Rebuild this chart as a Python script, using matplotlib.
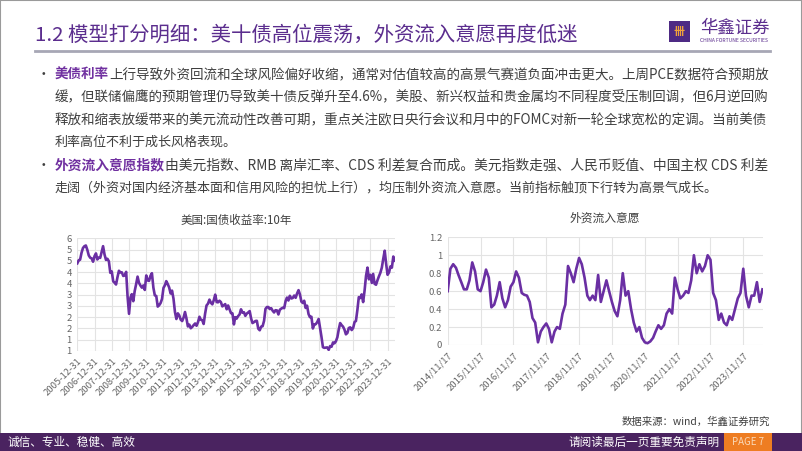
import matplotlib
matplotlib.use("Agg")
import matplotlib.pyplot as plt
import matplotlib.patches as mpatches
import pandas as pd

plt.rcParams['font.family'] = ['Noto Sans CJK SC', 'DejaVu Sans']

# 美国10年期国债收益率 (月末, %), 2005-12 ~ 2024-05
us10y = [4.39,
         4.53, 4.55, 4.86, 5.07, 5.15, 5.18, 4.99, 4.74, 4.64, 4.61, 4.46, 4.71,
         4.83, 4.56, 4.65, 4.63, 4.90, 5.15, 4.78, 4.54, 4.59, 4.48, 3.97, 4.03,
         3.59, 3.53, 3.45, 3.77, 4.06, 3.99, 3.99, 3.83, 3.85, 4.01, 2.92, 2.15,
         2.87, 3.02, 2.71, 3.16, 3.47, 3.80, 3.52, 3.40, 3.31, 3.41, 3.21, 3.85,
         3.63, 3.61, 3.84, 3.95, 3.31, 2.97, 2.94, 2.47, 2.53, 2.63, 2.81, 3.30,
         3.42, 3.60, 3.47, 3.32, 3.05, 3.18, 2.82, 2.23, 1.92, 2.17, 2.08, 1.89,
         1.83, 1.98, 2.23, 1.95, 1.59, 1.67, 1.51, 1.57, 1.65, 1.72, 1.62, 1.78,
         2.02, 1.89, 1.87, 1.70, 2.16, 2.52, 2.60, 2.78, 2.64, 2.57, 2.75, 3.00,
         2.67, 2.66, 2.73, 2.67, 2.48, 2.53, 2.58, 2.35, 2.52, 2.35, 2.18, 2.17,
         1.68, 2.00, 1.94, 2.05, 2.12, 2.35, 2.20, 2.22, 2.06, 2.16, 2.21, 2.27,
         1.94, 1.74, 1.78, 1.83, 1.84, 1.49, 1.42, 1.58, 1.60, 1.84, 2.37, 2.45,
         2.45, 2.36, 2.40, 2.29, 2.21, 2.31, 2.30, 2.12, 2.33, 2.38, 2.42, 2.40,
         2.72, 2.87, 2.74, 2.95, 2.83, 2.85, 2.96, 2.86, 3.05, 3.20, 3.01, 2.69,
         2.63, 2.73, 2.41, 2.51, 2.14, 2.00, 2.02, 1.50, 1.68, 1.69, 1.78, 1.92,
         1.51, 1.13, 0.67, 0.64, 0.65, 0.66, 0.55, 0.72, 0.69, 0.88, 0.84, 0.93,
         1.11, 1.44, 1.74, 1.65, 1.58, 1.45, 1.24, 1.30, 1.52, 1.55, 1.43, 1.52,
         1.79, 1.83, 2.32, 2.89, 2.85, 3.01, 2.67, 3.19, 3.83, 4.20, 3.68, 3.88,
         3.52, 3.92, 3.48, 3.44, 3.64, 3.81, 3.97, 4.20, 4.59, 4.95, 4.37, 3.88,
         3.99, 4.25, 4.20, 4.69, 4.51]
us10y_dates = pd.date_range("2005-12-31", periods=len(us10y), freq="ME")
us10y_ticks = ["2005-12-31", "2006-12-31", "2007-12-31", "2008-12-31", "2009-12-31",
               "2010-12-31", "2011-12-31", "2012-12-31", "2013-12-31", "2014-12-31",
               "2015-12-31", "2016-12-31", "2017-12-31", "2018-12-31", "2019-12-31",
               "2020-12-31", "2021-12-31", "2022-12-31", "2023-12-31"]
us10y_yticks = [0.5, 1.0, 1.5, 2.0, 2.5, 3.0, 3.5, 4.0, 4.5, 5.0, 5.5]
us10y_ylabels = ["1", "1", "2", "2", "3", "3", "4", "4", "5", "5", "6"]

# 外资流入意愿指数 (每月17日), 2014-11 ~ 2024-06
inflow = [0.60, 0.85, 0.90, 0.86, 0.78, 0.70, 0.62, 0.62, 0.72, 0.92, 0.82, 0.62,
          0.60, 0.70, 0.84, 0.75, 0.42, 0.45, 0.55, 0.70, 0.52, 0.42, 0.50, 0.65,
          0.70, 0.82, 0.75, 0.58, 0.56, 0.55, 0.48, 0.30, 0.25, 0.03, 0.15, 0.20,
          0.24, 0.18, 0.03, 0.15, 0.20, 0.18, 0.35, 0.45, 0.88, 0.80, 0.70, 0.85,
          0.97, 0.90, 0.75, 0.55, 0.50, 0.55, 0.50, 0.78, 0.48, 0.60, 0.72, 0.60,
          0.48, 0.38, 0.32, 0.50, 0.80, 0.55, 0.60, 0.40, 0.25, 0.15, 0.20, 0.08,
          0.03, 0.02, 0.04, 0.08, 0.15, 0.22, 0.18, 0.22, 0.35, 0.40, 0.35, 0.75,
          0.62, 0.52, 0.55, 0.60, 0.58, 0.72, 1.00, 0.80, 0.90, 0.82, 0.88, 1.00,
          0.95, 0.58, 0.50, 0.28, 0.35, 0.25, 0.22, 0.32, 0.28, 0.40, 0.52, 0.58,
          0.85, 0.55, 0.42, 0.55, 0.55, 0.70, 0.48, 0.62]
inflow_dates = pd.date_range("2014-11-17", periods=len(inflow), freq=pd.DateOffset(months=1))
inflow_ticks = ["2014/11/17", "2015/11/17", "2016/11/17", "2017/11/17", "2018/11/17",
                "2019/11/17", "2020/11/17", "2021/11/17", "2022/11/17", "2023/11/17"]
inflow_yticks = [0, 0.2, 0.4, 0.6, 0.8, 1.0, 1.2]
inflow_ylabels = ["0", "0.2", "0.4", "0.6", "0.8", "1", "1.2"]

title = "1.2 模型打分明细：美十债高位震荡，外资流入意愿再度低迷"
# 正文: (高亮部分, 普通部分, 是否两端对齐)
body_lines = [
    ("美债利率", "上行导致外资回流和全球风险偏好收缩，通常对估值较高的高景气赛道负面冲击更大。上周PCE数据符合预期放", True),
    ("", "缓，但联储偏鹰的预期管理仍导致美十债反弹升至4.6%，美股、新兴权益和贵金属均不同程度受压制回调，但6月逆回购", True),
    ("", "释放和缩表放缓带来的美元流动性改善可期，重点关注欧日央行会议和月中的FOMC对新一轮全球宽松的定调。当前美债", True),
    ("", "利率高位不利于成长风格表现。", False),
    ("外资流入意愿指数", "由美元指数、RMB 离岸汇率、CDS 利差复合而成。美元指数走强、人民币贬值、中国主权 CDS 利差", True),
    ("", "走阔（外资对国内经济基本面和信用风险的担忧上行），均压制外资流入意愿。当前指标触顶下行转为高景气成长。", False),
]
body_y = [75, 97.5, 120, 142.5, 165.5, 188]

W, H = 802, 451
purple = '#5B2D8E'
line_purple = '#6A2FA3'
text_gray = '#3F3F3F'


def fx(x):
    return x / W


def fy(y):
    return 1 - y / H


fig = plt.figure(figsize=(W / 100, H / 100), dpi=100)
renderer = fig.canvas.get_renderer()

# 边框
fig.patches.append(mpatches.Rectangle((0, 0), 1, 1, transform=fig.transFigure,
                                      fill=False, edgecolor='#9A9A9A', lw=1.5))

# 标题 + 分隔线
fig.text(fx(35), fy(35), title, color=purple, fontsize=14.7, va='center', ha='left')
fig.add_artist(plt.Line2D([fx(35), fx(770)], [fy(50.5), fy(50.5)], color='#A7A7B5', lw=2))

# logo
fig.patches.append(mpatches.Rectangle((fx(669), fy(42)), 21 / W, 21 / H, transform=fig.transFigure,
                                      facecolor='#4E2A84', edgecolor='none'))
fig.text(fx(679.5), fy(31.5), "卌", color='#F2A33A', fontsize=8, ha='center', va='center', weight='bold')
fig.text(fx(700), fy(28), "华鑫证券", color=purple, fontsize=12.5, ha='left', va='center')
fig.text(fx(700), fy(40.5), "CHINA FORTUNE SECURITIES", color=purple, fontsize=3.6, ha='left', va='center')

# 正文
x_start, x_end = 54.5, 767
base_fs = 9.4
for (hl, rest, justify), y in zip(body_lines, body_y):
    fs = base_fs
    if justify:
        t = fig.text(0, 0, hl + rest, fontsize=base_fs)
        w = t.get_window_extent(renderer).width
        t.remove()
        fs = base_fs * (x_end - x_start) / w
    x = x_start
    if hl:
        fig.text(fx(37), fy(y), "•", color=text_gray, fontsize=fs, ha='left', va='center')
        t = fig.text(fx(x), fy(y), hl, color='#7030A0', fontsize=fs, ha='left', va='center', weight='bold')
        x = x + t.get_window_extent(renderer).width + fs * 0.08
    fig.text(fx(x), fy(y), rest, color=text_gray, fontsize=fs, ha='left', va='center')

# 左图: 美国10年国债收益率
ax1 = fig.add_axes([fx(77.3), fy(351), (395 - 77.3) / W, (351 - 238.3) / H])
ax1.plot(us10y_dates, us10y, color=line_purple, lw=1.9)
ax1.set_xlim(pd.Timestamp("2005-12-31"), pd.Timestamp("2024-06-05"))
ax1.set_ylim(0.5, 5.5)
ax1.set_yticks(us10y_yticks)
ax1.set_yticklabels(us10y_ylabels)
ax1.set_xticks(pd.to_datetime(us10y_ticks))
ax1.set_xticklabels(us10y_ticks, rotation=45, ha='right', rotation_mode='anchor')
ax1.set_title("美国:国债收益率:10年", fontsize=8.3, color='#404040', pad=10)

# 右图: 外资流入意愿
ax2 = fig.add_axes([fx(447.7), fy(345), (762.7 - 447.7) / W, (345 - 237.3) / H])
ax2.plot(inflow_dates, inflow, color=line_purple, lw=1.9)
ax2.set_xlim(pd.Timestamp("2014-11-17"), pd.Timestamp("2024-06-20"))
ax2.set_ylim(0, 1.2)
ax2.set_yticks(inflow_yticks)
ax2.set_yticklabels(inflow_ylabels)
ax2.set_xticks(pd.to_datetime(inflow_ticks))
ax2.set_xticklabels(inflow_ticks, rotation=45, ha='right', rotation_mode='anchor')
ax2.set_title("外资流入意愿", fontsize=8.5, color='#404040', pad=11)

for ax in (ax1, ax2):
    ax.grid(True, color='#E3E3E3', lw=0.8)
    ax.set_axisbelow(True)
    for s in ax.spines.values():
        s.set_visible(False)
    ax.tick_params(length=0, labelsize=6.8, labelcolor='#666666', pad=4)

# 数据来源
fig.text(fx(770), fy(422), "数据来源：wind，华鑫证券研究", color='#404040', fontsize=7.5, ha='right', va='center')

# 底部栏
fig.patches.append(mpatches.Rectangle((0, 0), 1, 18 / H, transform=fig.transFigure,
                                      facecolor='#4A2360', edgecolor='none'))
fig.patches.append(mpatches.Rectangle((fx(724), 0), 48 / W, 18 / H, transform=fig.transFigure,
                                      facecolor='#EE7D22', edgecolor='none'))
fig.text(fx(8), fy(442), "诚信、专业、稳健、高效", color='white', fontsize=8.4, ha='left', va='center')
fig.text(fx(720), fy(442), "请阅读最后一页重要免责声明", color='white', fontsize=8.4, ha='right', va='center')
fig.text(fx(748), fy(442), "PAGE 7", color='#FAD9B8', fontsize=7, ha='center', va='center')

fig.savefig("out.png", dpi=100)
